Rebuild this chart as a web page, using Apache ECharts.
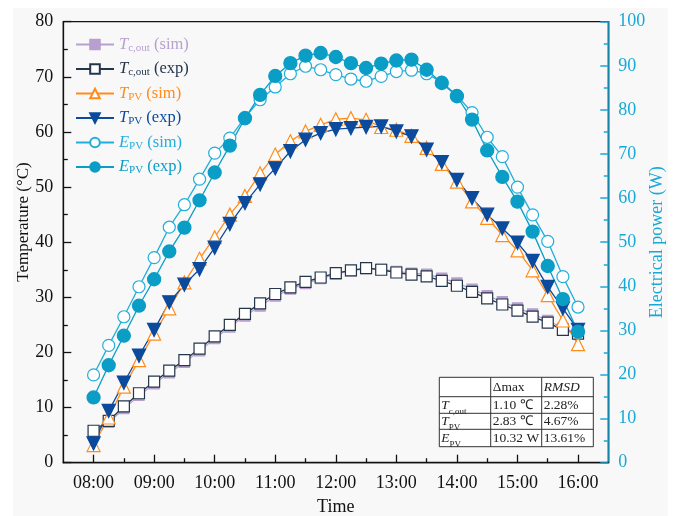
<!DOCTYPE html>
<html><head><meta charset="utf-8">
<script src="https://cdn.jsdelivr.net/npm/echarts@6/dist/echarts.min.js"></script>
<style>html,body{margin:0;padding:0;background:#fff}#c{width:676px;height:516px}</style>
</head><body><div id="c"></div>
<script>
// ---- data ----
const hours = [8, 8.25, 8.5, 8.75, 9, 9.25, 9.5, 9.75, 10, 10.25, 10.5, 10.75, 11, 11.25, 11.5, 11.75,
  12, 12.25, 12.5, 12.75, 13, 13.25, 13.5, 13.75, 14, 14.25, 14.5, 14.75, 15, 15.25, 15.5, 15.75, 16];
const tcoutSim = [5.3, 7.3, 9.8, 12.2, 14.3, 16.3, 18.2, 20.3, 22.5, 24.6, 26.6, 28.4, 30.2, 31.5, 32.5, 33.4,
  34.2, 34.8, 35.2, 35.1, 34.7, 34.4, 34.2, 33.5, 32.6, 31.5, 30.3, 29.2, 28.1, 27.0, 25.8, 24.4, 23.5];
const tcoutExp = [5.8, 7.6, 10.2, 12.6, 14.7, 16.7, 18.6, 20.7, 22.9, 25.0, 27.0, 28.9, 30.6, 31.8, 32.8, 33.6,
  34.4, 34.9, 35.3, 35.0, 34.5, 34.1, 33.8, 33.0, 32.1, 31.0, 29.8, 28.7, 27.6, 26.5, 25.4, 24.1, 23.4];
const tpvSim = [3.2, 8.2, 13.8, 18.6, 23.4, 28.0, 32.7, 37.0, 40.9, 45.0, 48.4, 52.5, 55.9, 58.3, 60.1, 61.3,
  62.3, 62.5, 62.2, 60.9, 60.4, 59.3, 57.1, 54.2, 51.0, 47.4, 44.4, 41.3, 38.5, 34.9, 30.4, 25.8, 21.5];
const tpvExp = [3.5, 9.4, 14.5, 19.4, 24.1, 29.1, 32.3, 35.1, 39.0, 43.3, 47.1, 50.5, 53.4, 56.5, 58.6, 59.8,
  60.5, 60.7, 60.9, 61.0, 60.1, 59.2, 56.8, 54.5, 51.3, 48.0, 45.0, 42.5, 39.9, 36.6, 31.9, 28.0, 24.1];
const epvSim = [19.9, 26.6, 33.1, 39.9, 46.5, 53.4, 58.5, 64.3, 70.2, 73.6, 78.3, 82.3, 85.2, 88.2, 89.9, 89.1,
  88.0, 87.0, 86.5, 87.6, 88.7, 89.0, 88.2, 86.3, 83.3, 79.4, 73.8, 69.4, 62.5, 56.2, 50.2, 42.2, 35.3];
const epvExp = [14.8, 22.1, 28.8, 35.6, 41.6, 47.9, 53.3, 59.5, 65.8, 71.9, 78.1, 83.4, 87.7, 90.6, 92.3, 92.9,
  92.0, 90.6, 89.5, 90.5, 91.2, 91.4, 89.1, 86.1, 83.1, 77.8, 70.8, 64.8, 59.2, 52.4, 44.6, 37.1, 29.7];
const xMajorTicks = [8, 9, 10, 11, 12, 13, 14, 15, 16];
const xMinorTicks = [8.5, 9.5, 10.5, 11.5, 12.5, 13.5, 14.5, 15.5];
const tableHeader = ['', 'Δmax', 'RMSD'];
const tableRows = [
  ['T', 'c,out', '1.10 ℃', '2.28%'],
  ['T', 'PV', '2.83 ℃', '4.67%'],
  ['E', 'PV', '10.32 W', '13.61%']
];

// ---- style ----
const FONT = '"Liberation Serif","Times New Roman",serif';
const C = {
  tcSim: '#b7a0cf', tcExp: '#24364a', tpSim: '#ff8c1a', tpExp: '#0b4a9c',
  epSim: '#22aedb', epExp: '#0a9dc6', axisR: '#17a9d6'
};
const names = ['Tc,out (sim)', 'Tc,out (exp)', 'TPV (sim)', 'TPV (exp)', 'EPV (sim)', 'EPV (exp)'];
const legendRich = {};
const legendKeys = ['a', 'b', 'c', 'd', 'e', 'f'];
const legendCols = [C.tcSim, C.tcExp, C.tpSim, C.tpExp, C.epSim, C.epExp];
legendKeys.forEach((k, i) => {
  legendRich[k + 'i'] = {fontFamily: FONT, fontSize: 16.5, fontStyle: 'italic', color: legendCols[i], lineHeight: 18, verticalAlign: 'middle'};
  legendRich[k + 's'] = {fontFamily: FONT, fontSize: 11, color: legendCols[i], lineHeight: 18, verticalAlign: 'bottom'};
  legendRich[k + 'n'] = {fontFamily: FONT, fontSize: 16.5, color: legendCols[i], lineHeight: 18, verticalAlign: 'middle'};
});
function legendFmt(name) {
  const i = names.indexOf(name);
  const k = legendKeys[i];
  const letter = name.charAt(0);
  const sub = name.startsWith('Tc') ? 'c,out' : 'PV';
  const rest = name.slice(name.indexOf(' '));
  return '{' + k + 'i|' + letter + '}{' + k + 's|' + sub + '}{' + k + 'n|' + rest + '}';
}
function pairs(ys) { return hours.map((h, i) => [h, ys[i]]); }

function mkSeries(name, data, yIdx, color, symbol, size, extra) {
  return Object.assign({
    name, type: 'line', data: pairs(data), yAxisIndex: yIdx, xAxisIndex: 0,
    symbol, symbolSize: size, showSymbol: true,
    lineStyle: {color, width: 1.3}, itemStyle: {color, borderColor: color, borderWidth: 1.3},
    animation: false
  }, extra || {});
}

// table graphic
const TX = [439.3, 490.7, 541.7, 593.3];
const TY = [377.3, 396.7, 413.3, 429.3, 446.7];
const tableEls = [];
tableEls.push({type: 'rect', shape: {x: TX[0], y: TY[0], width: TX[3] - TX[0], height: TY[4] - TY[0]},
  style: {fill: '#ffffff', stroke: '#333', lineWidth: 1}, z: 50});
for (let i = 1; i < 3; i++) tableEls.push({type: 'line', shape: {x1: TX[i], y1: TY[0], x2: TX[i], y2: TY[4]}, style: {stroke: '#333', lineWidth: 1}, z: 51});
for (let j = 1; j < 4; j++) tableEls.push({type: 'line', shape: {x1: TX[0], y1: TY[j], x2: TX[3], y2: TY[j]}, style: {stroke: '#333', lineWidth: 1}, z: 51});
const tRich = {
  n: {fontFamily: FONT, fontSize: 13.5, fill: '#222', color: '#222'},
  i: {fontFamily: FONT, fontSize: 13.5, fontStyle: 'italic', fill: '#222', color: '#222'},
  s: {fontFamily: FONT, fontSize: 9, fill: '#222', color: '#222', verticalAlign: 'bottom', padding: [0, 0, -4, 0]}
};
tableEls.push({type: 'text', z: 52, style: {text: '{n|' + tableHeader[1] + '}', rich: tRich, x: TX[1] + 2, y: (TY[0] + TY[1]) / 2, verticalAlign: 'middle'}});
tableEls.push({type: 'text', z: 52, style: {text: '{i|' + tableHeader[2] + '}', rich: tRich, x: TX[2] + 2, y: (TY[0] + TY[1]) / 2, verticalAlign: 'middle'}});
tableRows.forEach((r, j) => {
  const yc = (TY[j + 1] + TY[j + 2]) / 2;
  tableEls.push({type: 'text', z: 52, style: {text: '{i|' + r[0] + '}{s|' + r[1] + '}', rich: tRich, x: TX[0] + 2, y: yc, verticalAlign: 'middle'}});
  tableEls.push({type: 'text', z: 52, style: {text: '{n|' + r[2] + '}', rich: tRich, x: TX[1] + 2, y: yc, verticalAlign: 'middle'}});
  tableEls.push({type: 'text', z: 52, style: {text: '{n|' + r[3] + '}', rich: tRich, x: TX[2] + 2, y: yc, verticalAlign: 'middle'}});
});

const chart = echarts.init(document.getElementById('c'), null, {renderer: 'canvas'});
chart.setOption({
  animation: false,
  backgroundColor: 'transparent',
  graphic: [
    {type: 'rect', shape: {x: 13, y: 8, width: 655, height: 508}, style: {fill: '#f8f8f8'}, z: -100, silent: true},
    {type: 'text', x: 24, y: 222, rotation: Math.PI / 2, z: 10,
      style: {text: 'Temperature (°C)', font: '17px ' + FONT, fill: '#111', align: 'center', verticalAlign: 'middle'}},
    ...tableEls
  ],
  grid: {left: 63.3, top: 21.7, right: 676 - 608.3, bottom: 516 - 462.7, show: true, borderColor: '#111', borderWidth: 1.3,
    backgroundColor: 'transparent', containLabel: false, outerBoundsMode: 'none'},
  legend: {
    orient: 'vertical', left: 70, top: 31, itemWidth: 38, itemHeight: 12, itemGap: 7,
    data: names, formatter: legendFmt, textStyle: {rich: legendRich, fontFamily: FONT, fontSize: 16.5},
    selectedMode: false
  },
  xAxis: [{
    type: 'value', min: 7.5, max: 16.5, position: 'bottom',
    name: 'Time', nameLocation: 'middle', nameGap: 36, nameMoveOverlap: false,
    nameTextStyle: {fontFamily: FONT, fontSize: 18, color: '#111'},
    axisLine: {show: true, onZero: false, lineStyle: {color: '#111', width: 1.3}},
    axisTick: {show: true, inside: true, length: 8, lineStyle: {color: '#111', width: 1.3}, customValues: xMajorTicks},
    axisLabel: {fontFamily: FONT, fontSize: 18, color: '#111', margin: 12, customValues: xMajorTicks,
      formatter: v => (v < 10 ? '0' : '') + v + ':00'},
    splitLine: {show: false}
  }, {
    type: 'value', min: 7.5, max: 16.5, position: 'bottom',
    axisLine: {show: false},
    axisTick: {show: true, inside: true, length: 4.5, lineStyle: {color: '#111', width: 1.3}, customValues: xMinorTicks},
    axisLabel: {show: false}, splitLine: {show: false}
  }],
  yAxis: [{
    type: 'value', min: 0, max: 80, interval: 10, position: 'left',
    axisLine: {show: true, onZero: false, lineStyle: {color: '#111', width: 1.3}},
    axisTick: {show: true, inside: true, length: 8, lineStyle: {color: '#111', width: 1.3}},
    minorTick: {show: true, splitNumber: 2, length: 4.5, lineStyle: {color: '#111', width: 1.3}},
    axisLabel: {fontFamily: FONT, fontSize: 18, color: '#111', margin: 10},
    splitLine: {show: false}, minorSplitLine: {show: false}
  }, {
    type: 'value', min: 0, max: 100, interval: 10, position: 'right',
    name: 'Electrical power (W)', nameLocation: 'middle', nameGap: 40, nameRotate: 90, nameMoveOverlap: false,
    nameTextStyle: {fontFamily: FONT, fontSize: 18, color: C.axisR},
    axisLine: {show: true, onZero: false, lineStyle: {color: C.axisR, width: 1.5}},
    axisTick: {show: true, inside: true, length: 8, lineStyle: {color: C.axisR, width: 1.5}},
    minorTick: {show: true, splitNumber: 2, length: 4.5, lineStyle: {color: C.axisR, width: 1.5}},
    axisLabel: {fontFamily: FONT, fontSize: 18, color: C.axisR, margin: 10},
    splitLine: {show: false}, minorSplitLine: {show: false}
  }],
  series: [
    mkSeries(names[0], tcoutSim, 0, C.tcSim, 'rect', 10),
    mkSeries(names[1], tcoutExp, 0, C.tcExp, 'rect', 11, {itemStyle: {color: '#ffffff', borderColor: C.tcExp, borderWidth: 1.2}}),
    mkSeries(names[2], tpvSim, 0, C.tpSim, 'triangle', 13, {itemStyle: {color: '#ffffff', borderColor: C.tpSim, borderWidth: 1.2}}),
    mkSeries(names[3], tpvExp, 0, C.tpExp, 'triangle', 13, {symbolRotate: 180}),
    mkSeries(names[4], epvSim, 1, C.epSim, 'circle', 12, {itemStyle: {color: '#ffffff', borderColor: C.epSim, borderWidth: 1.2}}),
    mkSeries(names[5], epvExp, 1, C.epExp, 'circle', 13)
  ]
});
</script>
</body></html>
